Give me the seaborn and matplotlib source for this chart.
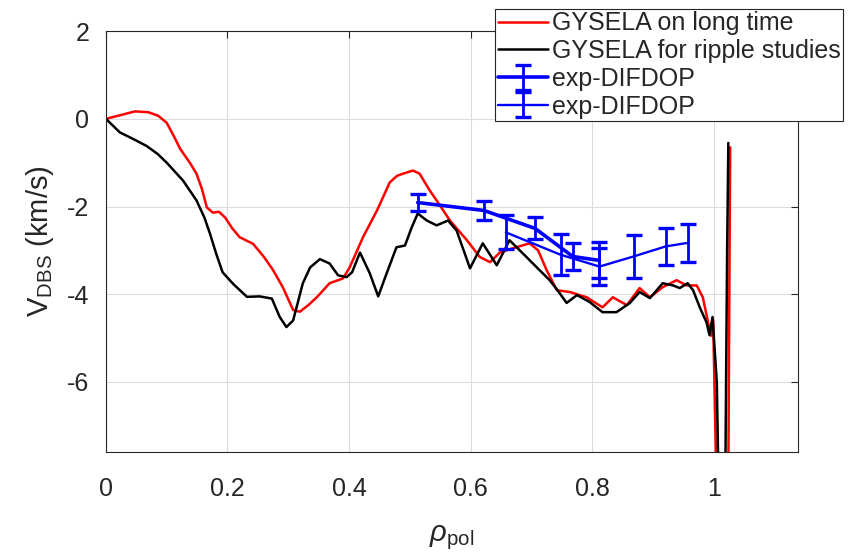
import numpy as np
import pandas as pd
import seaborn as sns
from matplotlib import pyplot as plt

# GYSELA on long time (red)
rho_long = [0, 0.02, 0.048, 0.07, 0.086, 0.1, 0.112, 0.122, 0.138, 0.149, 0.158, 0.166,
            0.176, 0.186, 0.196, 0.208, 0.22, 0.242, 0.26, 0.275, 0.291, 0.308, 0.319,
            0.333, 0.347, 0.368, 0.39, 0.401, 0.423, 0.446, 0.467, 0.479, 0.489, 0.505,
            0.516, 0.533, 0.544, 0.566, 0.594, 0.615, 0.632, 0.648, 0.67, 0.697, 0.711,
            0.725, 0.742, 0.763, 0.791, 0.817, 0.834, 0.857, 0.878, 0.895, 0.916, 0.939,
            0.955, 0.972, 0.982, 0.99, 0.995, 0.999, 1.004, 1.01, 1.02, 1.024, 1.027]
v_long = [0, 0.07, 0.17, 0.15, 0.07, -0.09, -0.4, -0.68, -1.0, -1.25, -1.6, -2.02,
          -2.14, -2.12, -2.25, -2.5, -2.7, -2.85, -3.15, -3.45, -3.84, -4.36, -4.4,
          -4.25, -4.07, -3.75, -3.64, -3.39, -2.7, -2.09, -1.45, -1.3, -1.25, -1.18,
          -1.25, -1.64, -1.86, -2.32, -2.77, -3.15, -3.27, -3.05, -2.95, -2.84, -3.0,
          -3.45, -3.91, -3.95, -4.07, -4.3, -4.07, -4.25, -3.86, -4.07, -3.84, -3.68,
          -3.8, -3.8, -4.07, -4.6, -4.95, -4.6, -8.0, -11.0, -11.0, -8.0, -0.65]

# GYSELA for ripple studies (black)
rho_ripple = [0, 0.023, 0.045, 0.067, 0.085, 0.1, 0.127, 0.149, 0.162, 0.171, 0.182,
              0.192, 0.209, 0.232, 0.253, 0.273, 0.286, 0.297, 0.308, 0.324, 0.336,
              0.352, 0.368, 0.382, 0.396, 0.405, 0.418, 0.434, 0.448, 0.462, 0.478,
              0.492, 0.503, 0.513, 0.528, 0.544, 0.563, 0.577, 0.599, 0.62, 0.643,
              0.664, 0.686, 0.709, 0.73, 0.743, 0.758, 0.775, 0.796, 0.817, 0.84,
              0.862, 0.878, 0.895, 0.916, 0.933, 0.944, 0.957, 0.966, 0.977, 0.988,
              0.993, 0.998, 1.005, 1.01, 1.018, 1.022, 1.024]
v_ripple = [0, -0.31, -0.46, -0.62, -0.8, -1.0, -1.41, -1.86, -2.25, -2.61, -3.1,
            -3.5, -3.76, -4.06, -4.05, -4.1, -4.52, -4.75, -4.6, -3.75, -3.39,
            -3.2, -3.3, -3.57, -3.61, -3.5, -3.05, -3.52, -4.05, -3.52, -2.93,
            -2.89, -2.48, -2.16, -2.32, -2.43, -2.32, -2.55, -3.41, -2.84, -3.34,
            -2.77, -3.07, -3.39, -3.68, -3.91, -4.2, -4.02, -4.18, -4.41, -4.41,
            -4.2, -3.95, -4.09, -3.75, -3.8, -3.86, -3.75, -3.91, -4.3, -4.64,
            -4.93, -4.52, -6.0, -10.0, -10.0, -3.0, -0.55]

# exp-DIFDOP measurements
rho_exp1 = [0.513, 0.622, 0.706, 0.768, 0.812]
v_exp1 = [-1.91, -2.09, -2.5, -3.14, -3.23]
err_exp1 = [0.2, 0.21, 0.25, 0.31, 0.41]

rho_exp2 = [0.658, 0.748, 0.812, 0.868, 0.921, 0.957]
v_exp2 = [-2.59, -3.1, -3.37, -3.14, -2.91, -2.83]
err_exp2 = [0.39, 0.47, 0.42, 0.48, 0.43, 0.44]

sns.set_style("white")
plt.rcParams['font.family'] = ['Liberation Sans', 'DejaVu Sans']
plt.rcParams['axes.unicode_minus'] = False
plt.rcParams['mathtext.fontset'] = 'custom'
plt.rcParams['mathtext.rm'] = 'Liberation Sans'
plt.rcParams['mathtext.it'] = 'Liberation Sans:italic'

fig = plt.figure(figsize=(8.54, 5.56), dpi=100)
ax = fig.add_axes([0.124, 0.187, 0.81, 0.757])

df_long = pd.DataFrame({"rho": rho_long, "v": v_long})
df_ripple = pd.DataFrame({"rho": rho_ripple, "v": v_ripple})
sns.lineplot(data=df_long, x="rho", y="v", sort=False, estimator=None, color="red",
             linewidth=1.8, ax=ax, label="GYSELA on long time")
sns.lineplot(data=df_ripple, x="rho", y="v", sort=False, estimator=None, color="black",
             linewidth=1.8, ax=ax, label="GYSELA for ripple studies")
ax.errorbar(rho_exp1, v_exp1, yerr=err_exp1, color="blue", linewidth=2.6,
            elinewidth=2.0, capsize=6, capthick=2.4, label="exp-DIFDOP")
ax.errorbar(rho_exp2, v_exp2, yerr=err_exp2, color="blue", linewidth=1.7,
            elinewidth=2.0, capsize=6, capthick=2.4, label="exp-DIFDOP")

ax.set_xlim(0, 1.138)
ax.set_ylim(-7.6, 2)
ax.set_xticks([0, 0.2, 0.4, 0.6, 0.8, 1])
ax.set_xticklabels(["0", "0.2", "0.4", "0.6", "0.8", "1"])
ax.set_yticks([2, 0, -2, -4, -6])
ax.set_yticklabels(["2", "0", "-2", "-4", "-6"])
ax.grid(True, color="#dcdcdc", linewidth=0.8)
ax.tick_params(direction="in", length=5, width=0.8, labelsize=18, colors="#262626",
               top=True, right=True)
ax.tick_params(axis="x", pad=18)
ax.tick_params(axis="y", pad=12)
for s in ax.spines.values():
    s.set_color("#262626")
    s.set_linewidth(0.8)

ax.set_xlabel(r"$\rho_{\mathrm{pol}}$", fontsize=21, color="#262626", labelpad=16)
ax.set_ylabel(r"V$_{\mathrm{DBS}}$ (km/s)", fontsize=21, color="#262626", labelpad=8)

leg = ax.legend(loc="upper right", bbox_to_anchor=(0.987, 0.984),
                bbox_transform=fig.transFigure, fontsize=18, frameon=True,
                fancybox=False, borderaxespad=0, borderpad=0.1, labelspacing=0.15,
                handlelength=2.0, handletextpad=0.15)
leg.get_frame().set_edgecolor("#262626")
leg.get_frame().set_linewidth(0.8)
leg.get_frame().set_alpha(1)

fig.savefig("out.png", dpi=100)
